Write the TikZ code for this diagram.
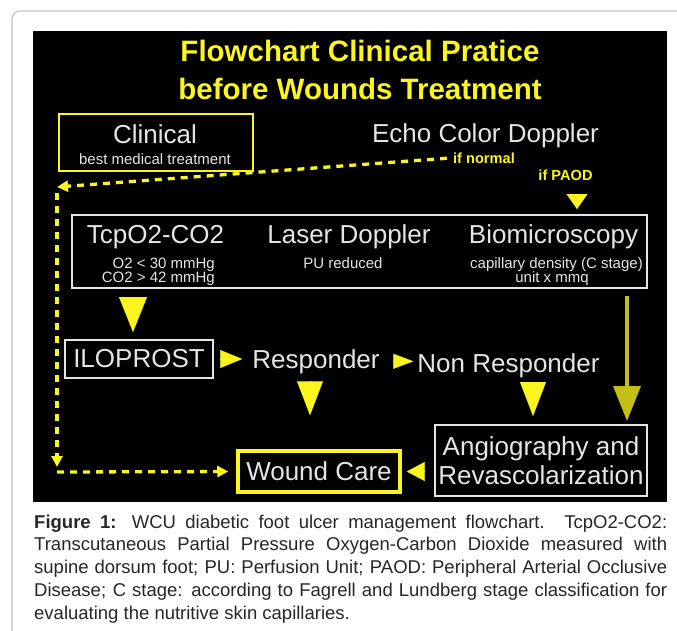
\documentclass[tikz,border=0pt]{standalone}
\usepackage{fontspec}
\setmainfont{Liberation Sans}
\usepackage{tikz}
\usetikzlibrary{arrows.meta}
\usetikzlibrary{calc}
\definecolor{fyellow}{RGB}{250,245,30}
\colorlet{oyellow}{fyellow!78!black}
\colorlet{chalk}{white!90!black}
\definecolor{framegray}{RGB}{195,195,195}
\newcommand\bigtxt{\fontsize{26}{29.5}\selectfont}
\newcommand\smalltxt{\fontsize{15}{14}\selectfont}
\newcommand\ytxt{\fontsize{14.6}{16}\selectfont\bfseries}
\newcommand\titletxt{\fontsize{29.5}{38}\selectfont\bfseries}
\newcommand\captxt{\fontsize{18.5}{22.8}\selectfont}
\tolerance=9999
\hyphenpenalty=10000
\tikzstyle{txt}=[inner sep=0pt,anchor=base,text=chalk]
\tikzstyle{wbx}=[draw=chalk,line width=2pt,inner sep=0pt,text=chalk,font=\bigtxt]
\tikzstyle{ybx}=[wbx,draw=fyellow,line width=2.5pt]
\tikzstyle{dl}=[fyellow,line width=3.3pt,dash pattern=on 7pt off 6pt,-{Triangle[length=11pt,width=11pt]}]
\tikzstyle{oarrow}=[oyellow,line width=3.5pt,-{Triangle[length=35pt,width=27pt]}]
\tikzset{ftip/.style 2 args={fyellow,line width=.1pt,-{Triangle[length=#1,width=#2]}}}
\begin{document}
\begin{tikzpicture}[x=1pt,y=-1pt]
	\useasboundingbox (0,0) rectangle (677,630);
	\begin{scope}
	  \clip (0,0) rectangle (677,630);
	  \draw[framegray,line width=1.2pt,rounded corners=8pt] (12,700) -- (12,11) -- (720,11);
	\end{scope}
	\fill[black] (33,31) rectangle (667,502);
	\node[inner sep=0pt,text=fyellow,font=\titletxt,align=center] (title) at (360,69.5) {Flowchart Clinical Pratice\\before Wounds Treatment};
	\node[ybx,minimum width=194pt,minimum height=57pt] (clinical) at (156,142.5) {};
	\node[txt,font=\bigtxt] (clintitle) at (155,143) {Clinical};
	\node[txt,font=\smalltxt] (clinsub) at (155,164) {best medical treatment};
	\node[txt,font=\bigtxt] (echo) at (485.5,142) {Echo Color Doppler};
	\node[txt,text=fyellow,font=\ytxt] (ifnormal) at (484,163) {if normal};
	\node[txt,text=fyellow,font=\ytxt] (ifpaod) at (565.5,180) {if PAOD};
	\node[wbx,minimum width=575pt,minimum height=73pt] (tests) at (359.5,251.5) {};
	\node[txt,font=\bigtxt] (tcp) at (155.5,243) {TcpO2-CO2};
	\node[txt,font=\smalltxt,anchor=base east] (otwo) at (215,268) {O2 < 30 mmHg};
	\node[txt,font=\smalltxt,anchor=base east] (cotwo) at (215,282) {CO2 > 42 mmHg};
	\node[txt,font=\bigtxt] (laser) at (349,243) {Laser Doppler};
	\node[txt,font=\smalltxt] (pu) at (343,268) {PU reduced};
	\node[txt,font=\bigtxt] (bio) at (553.5,243) {Biomicroscopy};
	\node[txt,font=\smalltxt] (capil) at (556.5,268) {capillary density (C stage)};
	\node[txt,font=\smalltxt] (unit) at (552,282) {unit x mmq};
	\node[wbx,minimum width=148pt,minimum height=38pt] (ilo) at (139,359) {ILOPROST};
	\node[txt,font=\bigtxt] (resp) at (316,368) {Responder};
	\node[txt,font=\bigtxt] (nonresp) at (508.5,372) {Non Responder};
	\node[ybx,line width=3.5pt,minimum width=162pt,minimum height=41pt] (wound) at (319,471.5) {Wound Care};
	\node[wbx,minimum width=212pt,minimum height=71pt,align=center] (angio) at (541,460.5) {Angiography and\\Revascolarization};
	\node[inner sep=0pt,anchor=north west,text width=633pt,align=justify,font=\captxt,text=black!85] (caption) at (34,514.5) {\textbf{Figure 1:} WCU diabetic foot ulcer management flowchart. TcpO2-CO2:\linebreak Transcutaneous Partial Pressure Oxygen-Carbon Dioxide measured with\linebreak supine dorsum foot; PU: Perfusion Unit; PAOD: Peripheral Arterial Occlusive\linebreak Disease; C stage: according to Fagrell and Lundberg stage classification for\linebreak evaluating the nutritive skin capillaries.};
	\coordinate (c1) at (57,187);
	\coordinate (c2) at (57,472);
	\draw[dl,shorten <=6pt] (ifnormal.west) -- (c1);
	\draw[dl,shorten <=6pt,shorten >=5pt] (c1) -- (c2);
	\draw[dl,shorten >=8pt] (c2) -- (wound.west);
	\draw[ftip={15pt}{21pt},shorten <=15pt,shorten >=5pt] ([xshift=11.5pt]ifpaod.south) -- ([xshift=11.5pt]ifpaod.south |- tests.north);
	\draw[ftip={35pt}{28pt},shorten <=10pt,shorten >=7pt] ([xshift=-6pt]ilo.north |- tests.south) -- ([xshift=-6pt]ilo.north);
	\draw[ftip={22pt}{18pt},shorten <=7pt,shorten >=10pt] (ilo.east) -- (ilo.east -| resp.west);
	\draw[ftip={20pt}{15pt},shorten <=13pt,shorten >=4pt] (resp.east) -- (resp.east -| nonresp.west);
	\draw[ftip={34pt}{26pt},shorten <=9.5pt,shorten >=34pt] ([xshift=-6pt]resp.south) -- ([xshift=-6pt]resp.south |- wound.north);
	\draw[ftip={34pt}{26pt},shorten <=5.5pt,shorten >=8pt] ([xshift=24.5pt]nonresp.south) -- ([xshift=24.5pt]nonresp.south |- angio.north);
	\draw[ftip={18pt}{19pt},shorten <=12pt,shorten >=5pt] (wound.east -| angio.west) -- (wound.east);
	\draw[oarrow,shorten <=7pt,shorten >=3pt] ([xshift=86pt]angio.north |- tests.south) -- ([xshift=86pt]angio.north);
\end{tikzpicture}
\end{document}
